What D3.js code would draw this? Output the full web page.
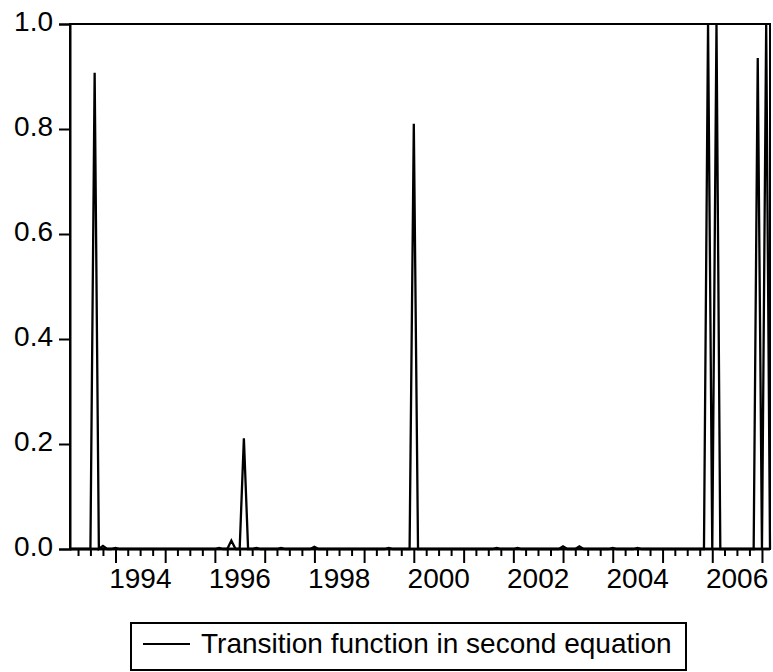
<!DOCTYPE html>
<html>
<head>
<meta charset="utf-8">
<script src="https://cdn.jsdelivr.net/npm/d3@7"></script>
<style>
  html, body { margin: 0; padding: 0; background: #fff; }
  svg { display: block; }
  text { font-family: "Liberation Sans", Arial, sans-serif; fill: #000; }
</style>
</head>
<body>
<svg id="chart" width="773" height="672"></svg>
<script>
// ---- data (monthly, starting 1993M02) ----
const startMonth = "1993-02";
const endMonth = "2007-03";
const transitionValues = [
  0, 0, 0, 0, 0, 0, 0.907, 0, 0.006, 0,
  0, 0.002, 0, 0, 0, 0, 0, 0, 0, 0,
  0, 0, 0, 0, 0, 0, 0, 0, 0, 0,
  0, 0, 0, 0, 0, 0, 0.002, 0, 0, 0.016,
  0, 0, 0.211, 0, 0, 0.002, 0, 0, 0, 0,
  0, 0.002, 0, 0, 0, 0, 0, 0, 0, 0.004,
  0, 0, 0, 0, 0, 0, 0, 0, 0, 0,
  0, 0, 0, 0, 0, 0, 0, 0.002, 0, 0,
  0, 0, 0, 0.81, 0, 0, 0, 0, 0, 0,
  0, 0, 0, 0, 0, 0, 0, 0, 0, 0,
  0, 0, 0, 0.002, 0, 0, 0, 0, 0.002, 0,
  0, 0, 0, 0, 0, 0, 0, 0, 0, 0.005,
  0, 0, 0, 0.005, 0, 0, 0, 0, 0, 0,
  0, 0.002, 0, 0, 0, 0, 0, 0.002, 0, 0,
  0, 0, 0, 0, 0, 0, 0, 0, 0, 0,
  0, 0, 0, 0, 1.0, 0, 1.0, 0, 0, 0,
  0, 0, 0, 0, 0, 0, 0.935, 0, 1.0, 0
];
const yTicks = [0.0, 0.2, 0.4, 0.6, 0.8, 1.0];
const xLabelYears = [1994, 1996, 1998, 2000, 2002, 2004, 2006];
const seriesName = "Transition function in second equation";

// ---- layout ----
const svg = d3.select("#chart");
const plotLeft = 70, plotRight = 770, plotTop = 24, plotBottom = 549;

const parseMonth = d3.timeParse("%Y-%m");
const t0 = parseMonth(startMonth), t1 = parseMonth(endMonth);
const dates = d3.timeMonth.range(t0, d3.timeMonth.offset(t1, 1));
const data = dates.map((d, i) => ({ date: d, value: transitionValues[i] }));

const x = d3.scaleTime().domain([t0, t1]).range([plotLeft, plotRight]);
const y = d3.scaleLinear().domain([0, 1]).range([plotBottom, plotTop]);

// frame
svg.append("rect")
  .attr("x", plotLeft).attr("y", plotTop)
  .attr("width", plotRight - plotLeft).attr("height", plotBottom - plotTop)
  .attr("fill", "none").attr("stroke", "#000").attr("stroke-width", 2);

// data line
const line = d3.line().x(d => x(d.date)).y(d => y(d.value));
svg.append("path")
  .datum(data)
  .attr("d", line)
  .attr("fill", "none")
  .attr("stroke", "#000")
  .attr("stroke-width", 2.3)
  .attr("stroke-linejoin", "miter");

// y axis
const yAxis = d3.axisLeft(y)
  .tickValues(yTicks)
  .tickFormat(d3.format(".1f"))
  .tickSize(11)
  .tickPadding(6);
const gy = svg.append("g").attr("transform", `translate(${plotLeft},0)`).call(yAxis);
gy.select(".domain").attr("stroke-width", 2);
gy.selectAll(".tick line").attr("stroke-width", 2);
gy.selectAll(".tick text")
  .style("font-family", '"Liberation Sans", Arial, sans-serif')
  .style("font-size", "28px")
  .attr("dy", "0.22em");

// x axis: quarterly minor ticks, yearly long ticks
const quarters = d3.timeMonth.range(t0, d3.timeMonth.offset(t1, 1))
  .filter(d => d.getMonth() % 3 === 0);
const gxMinor = svg.append("g").attr("transform", `translate(0,${plotBottom})`)
  .call(d3.axisBottom(x).tickValues(quarters.filter(d => d.getMonth() !== 0)).tickSize(7).tickFormat(""));
const years = quarters.filter(d => d.getMonth() === 0);
const gxMajor = svg.append("g").attr("transform", `translate(0,${plotBottom})`)
  .call(d3.axisBottom(x).tickValues(years).tickSize(14).tickFormat(""));
[gxMinor, gxMajor].forEach(g => {
  g.select(".domain").attr("stroke-width", 2.5).attr("d", `M${plotLeft},0H${plotRight}`);
  g.selectAll(".tick line").attr("stroke-width", 2);
});

// year labels centred in each labelled year
svg.append("g").selectAll("text")
  .data(xLabelYears)
  .join("text")
  .attr("x", yr => (x(new Date(yr, 0, 1)) + x(new Date(yr + 1, 0, 1))) / 2)
  .attr("y", 588)
  .attr("text-anchor", "middle")
  .style("font-size", "28px")
  .text(yr => yr);

// legend
const lg = svg.append("g");
lg.append("rect")
  .attr("x", 131).attr("y", 623).attr("width", 555).attr("height", 47)
  .attr("fill", "#fff").attr("stroke", "#000").attr("stroke-width", 2);
lg.append("line")
  .attr("x1", 143).attr("x2", 190).attr("y1", 644).attr("y2", 644)
  .attr("stroke", "#000").attr("stroke-width", 2);
lg.append("text")
  .attr("x", 201).attr("y", 653)
  .style("font-size", "28px")
  .text(seriesName);
</script>
</body>
</html>
